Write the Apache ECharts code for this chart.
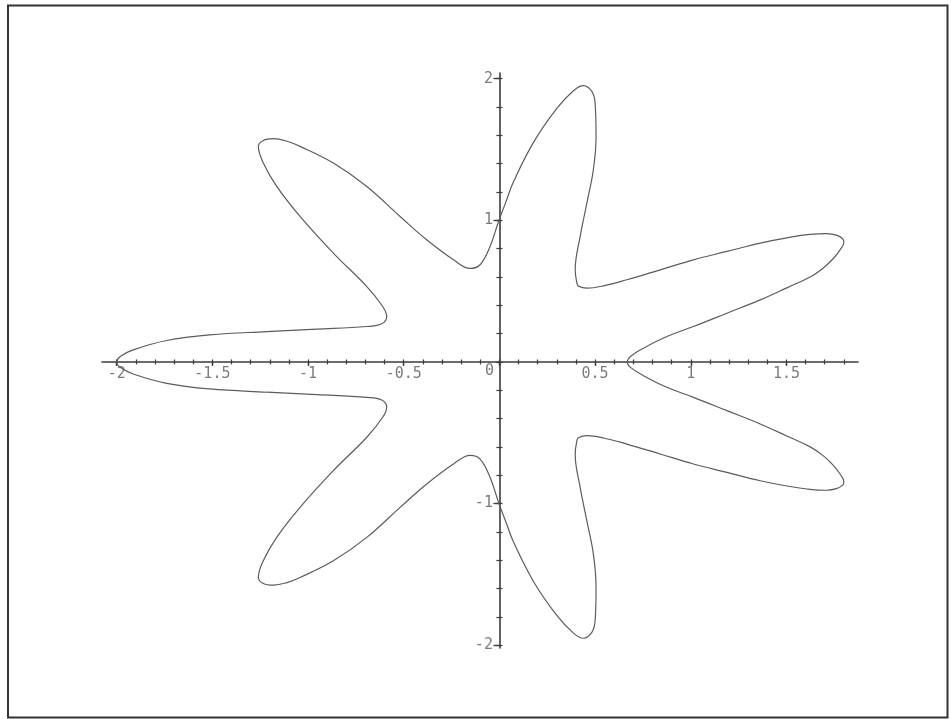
<!DOCTYPE html>
<html>
<head>
<meta charset="utf-8">
<title>Seven-petal polar curve</title>
<script src="https://cdn.jsdelivr.net/npm/echarts@6/dist/echarts.min.js"></script>
<style>
  html, body { margin: 0; padding: 0; background: #ffffff; }
  #chart { width: 951px; height: 719px; }
</style>
</head>
<body>
<div id="chart"></div>
<script>
// Closed curve, traced counter-clockwise from the inner crossing on the positive x axis.
// Upper half first, then the lower half back to the start.
const curveX = [
  0.666, 0.683, 0.753, 0.875, 1.014, 1.189, 1.363, 1.502, 1.624, 1.690,
  1.745, 1.782, 1.800, 1.795, 1.765, 1.710, 1.624, 1.502, 1.363, 1.189,
  1.014, 0.840, 0.666, 0.544, 0.457, 0.413, 0.405, 0.396, 0.422, 0.457,
  0.491, 0.505, 0.500, 0.483, 0.439, 0.387, 0.300, 0.178, 0.073, 0.034,
  -0.005, -0.049, -0.101, -0.153, -0.240, -0.380, -0.519, -0.693, -0.868, -1.042,
  -1.110, -1.181, -1.234, -1.260, -1.234, -1.164, -1.042, -0.868, -0.693, -0.610,
  -0.589, -0.615, -0.693, -0.955, -1.216, -1.512, -1.739, -1.914, -1.980, -2.000,
  -1.980, -1.914, -1.739, -1.512, -1.216, -0.955, -0.693, -0.615, -0.589, -0.610,
  -0.693, -0.868, -1.042, -1.164, -1.234, -1.260, -1.234, -1.181, -1.110, -1.042,
  -0.868, -0.693, -0.519, -0.380, -0.240, -0.153, -0.101, -0.049, -0.005, 0.034,
  0.073, 0.178, 0.300, 0.387, 0.439, 0.483, 0.500, 0.505, 0.491, 0.457,
  0.422, 0.396, 0.405, 0.413, 0.457, 0.544, 0.666, 0.840, 1.014, 1.189,
  1.363, 1.502, 1.624, 1.710, 1.765, 1.795, 1.800, 1.782, 1.745, 1.690,
  1.624, 1.502, 1.363, 1.189, 1.014, 0.875, 0.753, 0.683, 0.666
];
const curveY = [
  0.000, 0.037, 0.097, 0.179, 0.250, 0.344, 0.438, 0.523, 0.600, 0.660,
  0.730, 0.795, 0.845, 0.868, 0.893, 0.906, 0.900, 0.876, 0.839, 0.780,
  0.721, 0.650, 0.580, 0.537, 0.521, 0.535, 0.556, 0.650, 0.886, 1.122,
  1.357, 1.592, 1.828, 1.910, 1.951, 1.915, 1.790, 1.550, 1.270, 1.130,
  0.990, 0.815, 0.686, 0.660, 0.721, 0.862, 1.027, 1.239, 1.404, 1.522,
  1.558, 1.576, 1.564, 1.522, 1.404, 1.239, 1.027, 0.768, 0.532, 0.391,
  0.320, 0.269, 0.250, 0.231, 0.214, 0.191, 0.151, 0.085, 0.040, 0.000,
  -0.040, -0.085, -0.151, -0.191, -0.214, -0.231, -0.250, -0.269, -0.320, -0.391,
  -0.532, -0.768, -1.027, -1.239, -1.404, -1.522, -1.564, -1.576, -1.558, -1.522,
  -1.404, -1.239, -1.027, -0.862, -0.721, -0.660, -0.686, -0.815, -0.990, -1.130,
  -1.270, -1.550, -1.790, -1.915, -1.951, -1.910, -1.828, -1.592, -1.357, -1.122,
  -0.886, -0.650, -0.556, -0.535, -0.521, -0.537, -0.580, -0.650, -0.721, -0.780,
  -0.839, -0.876, -0.900, -0.906, -0.893, -0.868, -0.845, -0.795, -0.730, -0.660,
  -0.600, -0.523, -0.438, -0.344, -0.250, -0.179, -0.097, -0.037, 0.000
];

// Axis ranges and tick marks
const xRange = [-2.077, 1.874];
const yRange = [-2.02, 2.04];
const xLabelTicks = [-2, -1.5, -1, -0.5, 0, 0.5, 1, 1.5];
const yLabelTicks = [-2, -1, 1, 2];
const xMinorStep = 0.1;
const yMinorStep = 0.2;

function ticksBetween(lo, hi, step) {
  const out = [];
  const n = Math.round((hi - lo) / step);
  for (let i = 0; i <= n; i++) out.push(+(lo + i * step).toFixed(3));
  return out;
}
const xMinorTicks = ticksBetween(-2, 1.8, xMinorStep);
const yMinorTicks = ticksBetween(-2, 2, yMinorStep);

const AXIS_COLOR = '#3b3b3b';
const CURVE_COLOR = '#5c5c5c';
const LABEL_COLOR = '#5a5a5a';
const FONT = '"DejaVu Sans Mono", "Liberation Mono", monospace';

function xAxisLayer(ticks, len, inside, withLine) {
  return {
    type: 'value', min: xRange[0], max: xRange[1],
    axisLine: { show: withLine, onZero: true, onZeroAxisIndex: 0,
                lineStyle: { color: AXIS_COLOR, width: 1.6 } },
    axisTick: { show: true, inside: inside, length: len, customValues: ticks,
                lineStyle: { color: AXIS_COLOR, width: 1.2 } },
    axisLabel: { show: false },
    splitLine: { show: false }
  };
}

function yAxisLayer(ticks, len, inside, withLine) {
  return {
    type: 'value', min: yRange[0], max: yRange[1],
    axisLine: { show: withLine, onZero: true, onZeroAxisIndex: 0,
                lineStyle: { color: AXIS_COLOR, width: 1.6 } },
    axisTick: { show: true, inside: inside, length: len, customValues: ticks,
                lineStyle: { color: AXIS_COLOR, width: 1.2 } },
    axisLabel: { show: false },
    splitLine: { show: false }
  };
}

// Tick labels sit next to the crossing axes, so they ride on invisible points.
const labelText = { color: LABEL_COLOR, fontFamily: FONT, fontSize: 15 };

const chart = echarts.init(document.getElementById('chart'), null, { renderer: 'canvas' });

chart.setOption({
  animation: false,
  backgroundColor: '#ffffff',
  grid: { left: 102, right: 93, top: 73, bottom: 71, containLabel: false, outerBoundsMode: 'none' },
  xAxis: [
    xAxisLayer(xLabelTicks, 4, false, true),
    xAxisLayer(xLabelTicks, 4, true, false),
    xAxisLayer(xMinorTicks, 2.5, false, false),
    xAxisLayer(xMinorTicks, 2.5, true, false)
  ],
  yAxis: [
    yAxisLayer(yLabelTicks, 5, false, true),
    yAxisLayer(yLabelTicks, 6, true, false),
    yAxisLayer(yMinorTicks, 3, false, false),
    yAxisLayer(yMinorTicks, 3, true, false)
  ],
  series: [
    {
      type: 'line',
      xAxisIndex: 0, yAxisIndex: 0,
      data: curveX.map((x, i) => [x, curveY[i]]),
      showSymbol: false,
      smooth: 0.4,
      lineStyle: { color: CURVE_COLOR, width: 1.2 },
      z: 3
    },
    {
      type: 'scatter',
      xAxisIndex: 0, yAxisIndex: 0,
      silent: true,
      symbolSize: 1,
      itemStyle: { color: 'rgba(0,0,0,0)' },
      data: xLabelTicks.map(v => ({
        value: [v, 0],
        label: v === 0 ? { offset: [-10, -3] } : {}
      })),
      label: Object.assign({
        show: true, position: 'bottom', distance: 4,
        formatter: p => String(p.value[0])
      }, labelText),
      z: 4
    },
    {
      type: 'scatter',
      xAxisIndex: 0, yAxisIndex: 0,
      silent: true,
      symbolSize: 1,
      itemStyle: { color: 'rgba(0,0,0,0)' },
      data: yLabelTicks.map(v => [0, v]),
      label: Object.assign({
        show: true, position: 'left', distance: 6,
        formatter: p => String(p.value[1])
      }, labelText),
      z: 4
    }
  ],
  graphic: [{
    type: 'rect',
    shape: { x: 8, y: 5.5, width: 939.5, height: 712 },
    style: { fill: 'none', stroke: '#333333', lineWidth: 2 },
    silent: true
  }]
});
</script>
</body>
</html>
